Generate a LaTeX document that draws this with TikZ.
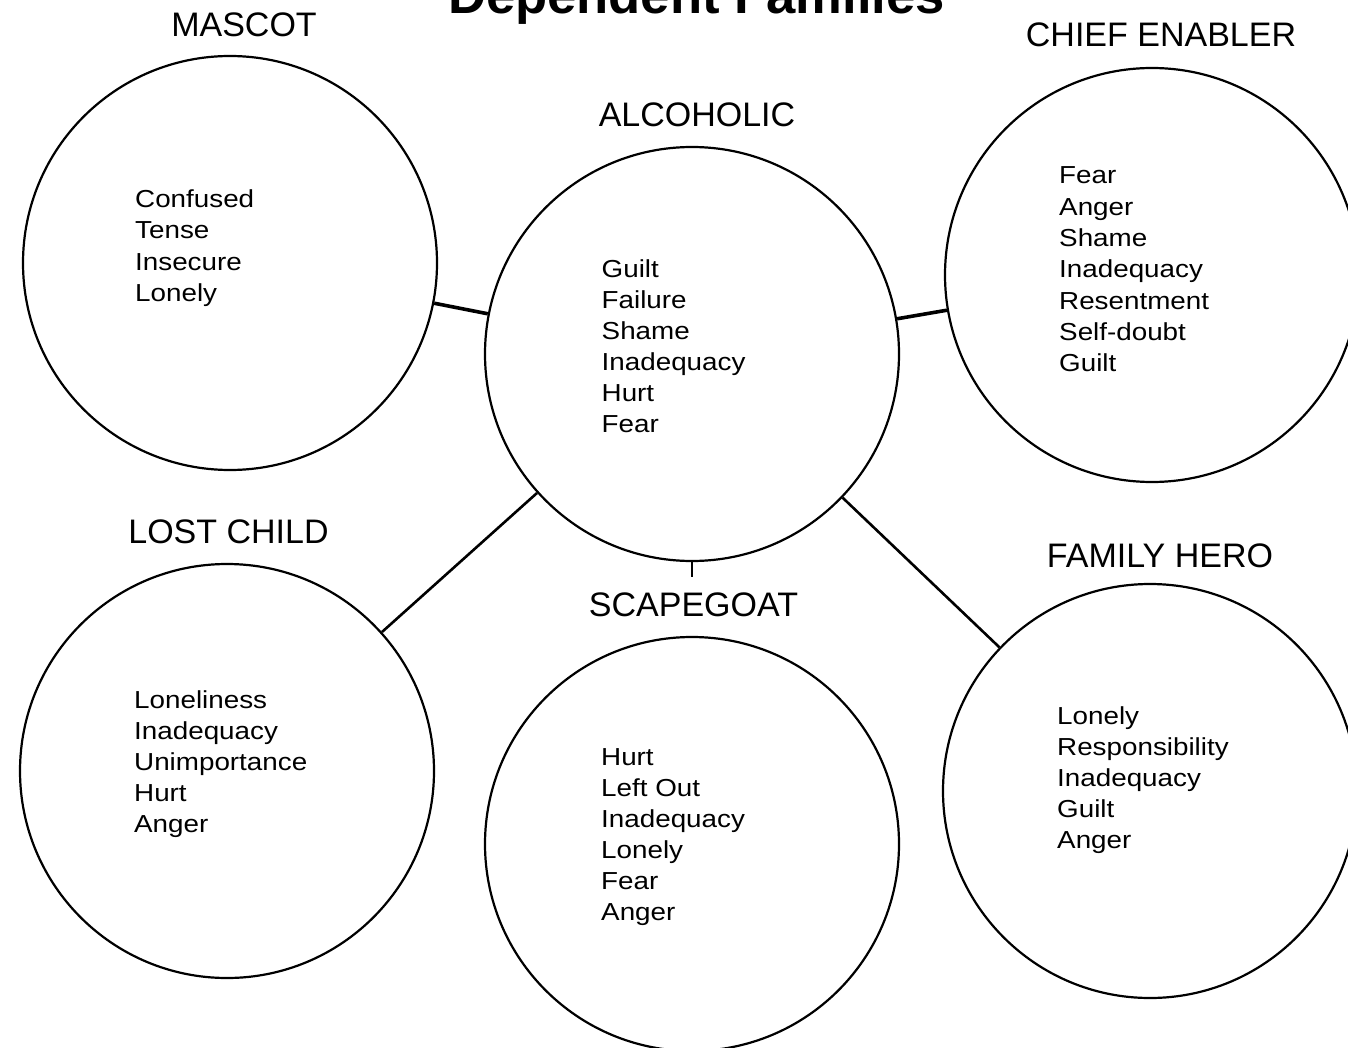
\documentclass[tikz,border=0pt]{standalone}
\usepackage{fontspec}
\setmainfont{Liberation Sans}
\newfontfamily\bodyfnt[FakeStretch=1.13]{Liberation Sans}
\newfontfamily\labelfnt{Liberation Sans}
\begin{document}
\begin{tikzpicture}[x=1pt,y=-1pt,
  role/.style={circle, draw, line width=2.2pt, minimum size=414pt, inner sep=0pt},
  lbl/.style={font=\labelfnt\fontsize{34}{40}\selectfont, anchor=base, inner sep=0pt},
  feel/.style={font=\bodyfnt\fontsize{24.6}{31}\selectfont, anchor=base west, inner sep=0pt},
  link/.style={line width=2.6pt},
  thicklink/.style={line width=3.6pt}]
\useasboundingbox (0,0) rectangle (1348,1048);
\clip (0,0) rectangle (1348,1048);
\fill[white] (0,0) rectangle (1348,1048);

% title (cut off at the top, as in the reference)
\node[font=\fontsize{52.6}{60}\selectfont\bfseries, anchor=base, inner sep=0pt] (title) at (696.5,14) {Dependent Families};

% circles
\node[role] (mascot) at (230,263) {};
\node[role] (alc) at (692,354) {};
\node[role] (chief) at (1152,275) {};
\node[role] (lost) at (227,771) {};
\node[role] (scape) at (692,844) {};
\node[role] (hero) at (1150,791) {};

% connectors
\draw[thicklink] (mascot) -- (alc);
\draw[thicklink] (alc) -- (chief);
\draw[link] (alc) -- (lost);
\draw[link] (alc) -- (hero);
\coordinate (stub) at (692,577);
\draw[link] (alc.south) -- (stub);

% labels
\node[lbl] (lmascot) at (244,37) {MASCOT};
\node[lbl] (lalc) at (697,127) {ALCOHOLIC};
\node[lbl] (lchief) at (1161,47) {CHIEF ENABLER};
\node[lbl] (llost) at (228.5,543) {LOST CHILD};
\node[lbl] (lhero) at (1160,567) {FAMILY HERO};
\node[lbl] (lscape) at (693.5,616) {SCAPEGOAT};

% feelings
\foreach \w [count=\i] in {Confused,Tense,Insecure,Lonely}
  \node[feel] (m\i) at (135,{207.3+31.4*(\i-1)}) {\w};
\foreach \w [count=\i] in {Guilt,Failure,Shame,Inadequacy,Hurt,Fear}
  \node[feel] (a\i) at (601.5,{277.3+31.1*(\i-1)}) {\w};
\foreach \w [count=\i] in {Fear,Anger,Shame,Inadequacy,Resentment,Self-doubt,Guilt}
  \node[feel] (c\i) at (1059,{184+31.3*(\i-1)}) {\w};
\foreach \w [count=\i] in {Loneliness,Inadequacy,Unimportance,Hurt,Anger}
  \node[feel] (l\i) at (134,{708+31*(\i-1)}) {\w};
\foreach \w [count=\i] in {Hurt,Left Out,Inadequacy,Lonely,Fear,Anger}
  \node[feel] (s\i) at (601,{765+31*(\i-1)}) {\w};
\foreach \w [count=\i] in {Lonely,Responsibility,Inadequacy,Guilt,Anger}
  \node[feel] (h\i) at (1057,{724+31*(\i-1)}) {\w};
\end{tikzpicture}
\end{document}
